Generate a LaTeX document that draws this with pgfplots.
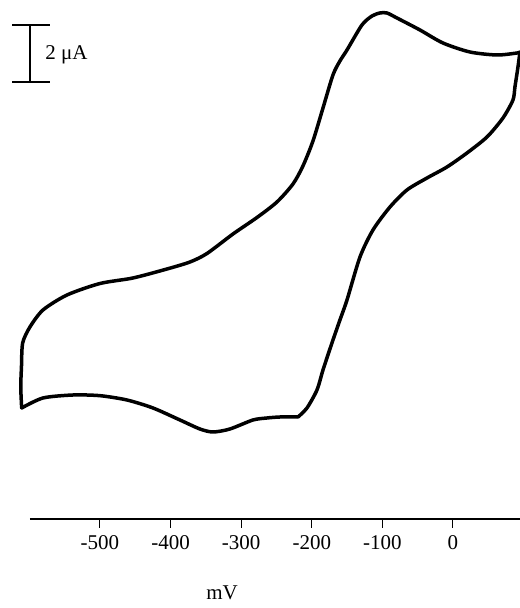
\documentclass[border=0pt]{standalone}
\usepackage{fontspec}
\setmainfont{Liberation Serif}
\usepackage{pgfplots}
\pgfplotsset{compat=1.18}
\begin{document}
\fontsize{10.5}{12.5}\selectfont
\begin{tikzpicture}
\begin{axis}[
  scale only axis, width=245pt, height=259.5pt,
  xmin=-599.2, xmax=94.9, ymin=-3.123, ymax=15.088,
  axis x line=bottom, axis y line=none,
  x axis line style={-, line width=1pt},
  xtick={-500,-400,-300,-200,-100,0},
  xticklabels={-500,-400,-300,-200,-100,0},
  tick align=outside, major tick length=4.5pt,
  tick style={line width=0.5pt, black},
  xticklabel style={font=\fontsize{10.5}{12.5}\selectfont},
  clip=false,
  cv/.style={black, line width=1.75pt, line join=round, line cap=round, smooth, tension=0.45},
]
% forward scan (upper branch)
\addplot[cv] coordinates {
(-610.9,0.772) (-612.2,1.509) (-611.2,2.211) (-609.5,3.053) (-599.2,3.614)
(-580.7,4.211) (-546.7,4.737) (-500.0,5.140) (-453.3,5.333) (-405.1,5.649)
(-372.5,5.895) (-348.4,6.193) (-311.6,6.877) (-277.6,7.456) (-249.3,8.0)
(-226.6,8.632) (-212.5,9.263) (-198.3,10.140) (-184.1,11.298) (-170.0,12.456)
(-160.1,12.947) (-150.1,13.333) (-128.9,14.211) (-114.7,14.526) (-103.4,14.632)
(-93.5,14.632) (-79.3,14.456) (-46.7,14.035) (-14.2,13.579) (24.1,13.263)
(62.3,13.158) (90.7,13.228) (94.9,13.263)
};
% reverse scan
\addplot[cv] coordinates {
(94.9,13.263)
(92.1,12.737) (87.8,12.035) (85.0,11.579) (70.8,10.947) (48.2,10.281)
(19.8,9.719) (-8.5,9.228) (-36.8,8.842) (-65.2,8.421) (-89.2,7.825)
(-113.3,7.018) (-131.7,6.070) (-150.1,4.561) (-160.1,3.860) (-171.4,3.053)
(-184.1,2.105) (-192.6,1.404) (-206.8,0.772) (-219.5,0.456)
};
\addplot[cv] coordinates {
(-219.5,0.456) (-245.0,0.456)
(-263.5,0.421) (-283.3,0.351) (-315.9,0.035) (-339.9,-0.070) (-358.4,0.035)
(-386.7,0.351) (-424.9,0.772) (-461.8,1.053) (-500.0,1.204) (-538.2,1.228)
(-580.7,1.123) (-610.9,0.772)
};
% scale bar
\draw[line width=0.6pt] (axis cs:-624.6,14.21) -- (axis cs:-570.8,14.21);
\draw[line width=0.6pt] (axis cs:-624.6,12.21) -- (axis cs:-570.8,12.21);
\draw[line width=0.6pt] (axis cs:-599.2,14.21) -- (axis cs:-599.2,12.21);
\node[anchor=west, inner sep=0pt] at (axis cs:-578,13.16) {2 μA};
\node at (axis cs:-327,-5.72) {mV};
\coordinate (bbsw) at (axis cs:-641.6,-6.246);
\coordinate (bbne) at (axis cs:94.9,15.088);
\end{axis}
\pgfresetboundingbox
\path (bbsw) rectangle (bbne);
\end{tikzpicture}
\end{document}
